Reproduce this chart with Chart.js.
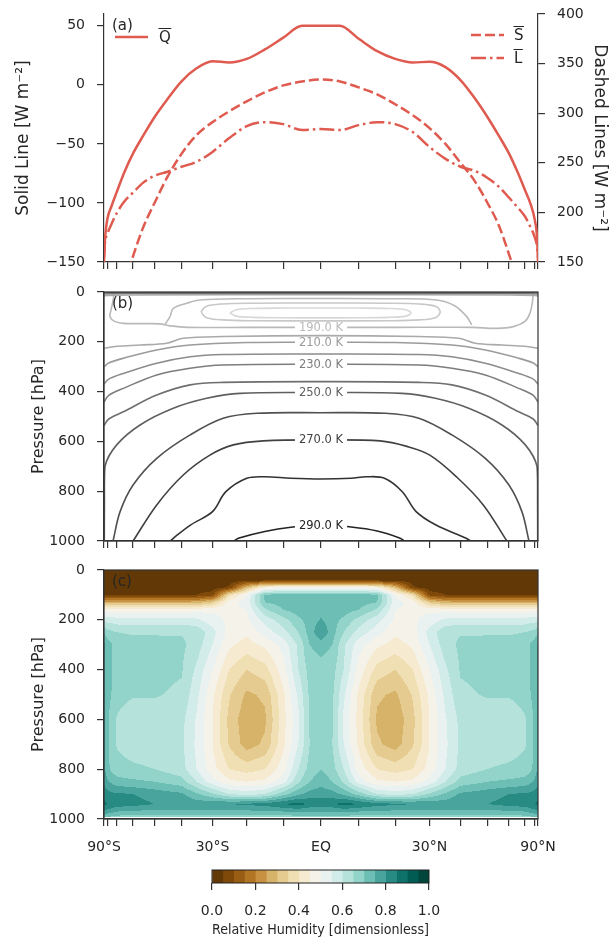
<!DOCTYPE html>
<html>
<head>
<meta charset="utf-8">
<script src="https://cdn.jsdelivr.net/npm/chart.js@4.4.0/dist/chart.umd.min.js"></script>
<style>
  html, body { margin: 0; padding: 0; background: #fff; }
  #wrap { position: relative; width: 614px; height: 943px; overflow: hidden; }
  #wrap canvas { position: absolute; left: 0; }
</style>
</head>
<body>
<div id="wrap">
  <canvas id="panelA" width="614" height="285" style="top:0px"></canvas>
  <canvas id="panelB" width="614" height="275" style="top:280px"></canvas>
  <canvas id="panelC" width="614" height="310" style="top:555px"></canvas>
  <canvas id="cbar" width="614" height="83" style="top:860px"></canvas>
</div>
<script>
// ---- panel (a): zonal-mean energy terms ----
const LATS_A = [-90, -85, -80, -75, -70, -65, -60, -55, -50, -45, -40, -35, -30, -25, -20, -15, -10, -5,
  0, 5, 10, 15, 20, 25, 30, 35, 40, 45, 50, 55, 60, 65, 70, 75, 80, 85, 90];
const Q_BAR = [-150, -133, -114, -103, -90, -74, -58, -43, -27, -12, 3, 14, 20, 19, 22, 30, 40, 50,
  50, 50, 39, 28.5, 22, 19, 19.5, 15, 4, -11, -27, -43, -58, -74, -89, -101, -114, -131, -150];
const L_BAR = [155, 168, 178, 188, 200, 211, 220, 230, 237, 241, 246, 251, 261, 275, 287, 291, 289, 283,
  284, 283, 288, 291, 289, 281, 266, 254, 246, 242, 235, 226, 215, 205, 196, 185, 175, 165, 155];
const LATS_S = [-70, -65, -60, -55, -50, -45, -40, -35, -30, -25, -20, -15, -10, -5,
  0, 5, 10, 15, 20, 25, 30, 35, 40, 45, 50, 55, 60, 65, 70];
const S_BAR = [100, 128, 156, 185, 210, 236, 259, 278, 291, 302, 312, 321, 328, 332,
  334, 332, 326, 319, 309, 298, 285, 269, 250, 232, 210, 187, 158, 130, 102];

// ---- shared latitude axis (sine of latitude) ----
const TICK_LATS = [-90, -80, -70, -60, -50, -40, -30, -20, -10, 0, 10, 20, 30, 40, 50, 60, 70, 80, 90];
const LAT_LABELS = { '-90': '90°S', '-30': '30°S', '0': 'EQ', '30': '30°N', '90': '90°N' };
const P_TICKS = [0, 200, 400, 600, 800, 1000];

// ---- panel (b): temperature contours, [latitude, pressure] ----
const t170 = [[-24.8, 84], [-23, 71], [-18, 66], [-10, 64.5], [0, 64], [10, 64.5], [18, 66], [23, 71], [24.5, 84],
  [23, 97], [18, 102], [10, 103.5], [0, 104], [-10, 103.5], [-18, 102], [-23, 97], [-24.8, 84]];
const t180 = [[-33.6, 80], [-32, 58], [-27, 48], [-18, 45], [0, 44], [18, 45], [27, 48], [32, 58], [33.3, 80],
  [32, 102], [27, 112], [18, 115.5], [0, 116], [-18, 115.5], [-27, 112], [-32, 102], [-33.6, 80]];
const t190 = [[-72.5, 0], [-73.3, 32], [-75.5, 75], [-76.5, 99], [-72, 118], [-65.6, 126], [-55, 127], [-48, 128],
  [-44, 136], [-38, 142], [-20, 142], [0, 142], [20, 142], [35, 141.5], [44.6, 142], [54, 146], [62.4, 139],
  [70, 118], [74.3, 86], [77, 40], [78, 0]];
const t190cap = [[-46, 131], [-44.1, 99], [-42.9, 66], [-38.2, 45], [-33.9, 32], [-20, 27], [0, 26], [20, 27],
  [32.2, 32], [38, 55], [42.2, 99], [44, 132]];
const tTop1 = [[-90, 16], [-80, 14], [-60, 12], [0, 11], [60, 12], [80, 14], [90, 16]];
const tTop2 = [[-90, 8], [-60, 6], [0, 6], [60, 6], [90, 8]];
const tTop3 = [[-90, 3], [0, 2.5], [90, 3]];
const t200 = [[-90, 226], [-70, 218], [-56.5, 213], [-45.3, 206], [-39.4, 186], [-26.8, 179], [0, 175],
  [26.8, 179], [39.4, 186], [45.3, 206], [56.5, 213], [70, 218], [90, 226]];
const t210 = [[-90, 300], [-78, 285], [-65.6, 266], [-49.2, 233], [-37.1, 213], [-20, 203], [0, 202],
  [20, 203], [37.1, 213], [49.2, 233], [65.6, 266], [78, 285], [90, 300]];
const t220 = [[-90, 370], [-78, 350], [-65.6, 327], [-49.2, 286], [-37.1, 260], [-26.8, 251], [0, 249],
  [26.8, 251], [37.1, 260], [49.2, 286], [65.6, 327], [78, 350], [90, 370]];
const t230 = [[-90, 442], [-78, 415], [-65.6, 387], [-49.2, 333], [-37.1, 306], [-26.8, 293], [0, 290],
  [26.8, 293], [37.1, 306], [49.2, 333], [65.6, 387], [78, 415], [90, 442]];
const t240 = [[-90, 536], [-78, 510], [-65.6, 481], [-49.2, 414], [-37.1, 373], [-26.8, 363], [0, 360],
  [26.8, 363], [37.1, 373], [49.2, 414], [65.6, 481], [78, 510], [90, 536]];
const t250 = [[-87, 1000], [-86.5, 850], [-84.6, 701], [-70.3, 614], [-56.5, 534], [-42.9, 467], [-31.8, 427],
  [-21.9, 407], [0, 404], [21.9, 407], [31.8, 427], [42.9, 467], [56.5, 534], [70.3, 614], [84.6, 701],
  [86.5, 850], [87, 1000]];
const t260 = [[-73.4, 1000], [-67.8, 882], [-60, 775], [-49.2, 668], [-37.1, 574], [-26.8, 507], [-17.2, 487],
  [0, 485], [17.2, 487], [26.8, 507], [37.1, 574], [49.2, 668], [60, 775], [67.8, 882], [73.4, 1000]];
const t270 = [[-60, 1000], [-49.2, 855], [-39.4, 735], [-30.8, 655], [-23.8, 614], [-15.4, 598], [0, 594],
  [15.8, 598], [23.3, 620], [30.1, 655], [38.7, 743], [48.4, 855], [58.9, 1000]];
const t280 = [[-44, 1000], [-42.9, 989], [-37, 936], [-30, 882], [-26, 802], [-20, 748], [-15, 742], [-8, 748],
  [0, 751], [8, 748], [12, 742], [17, 748], [22, 802], [26, 882], [32, 936], [42, 989], [43.5, 1000]];
const t290 = [[-23.5, 1000], [-22.4, 989], [-15, 962], [-8, 945], [0, 936], [8, 944], [15, 960], [21.4, 989],
  [22.5, 1000]];

const CONTOURS = [
  { level: 250, pts: tTop3 }, { level: 225, pts: tTop2 }, { level: 200, pts: tTop1 },
  { level: 170, pts: t170 }, { level: 180, pts: t180 },
  { level: 190, pts: t190, label: true }, { level: 190, pts: t190cap },
  { level: 200, pts: t200 }, { level: 210, pts: t210, label: true }, { level: 220, pts: t220 },
  { level: 230, pts: t230, label: true }, { level: 240, pts: t240 }, { level: 250, pts: t250, label: true },
  { level: 260, pts: t260 }, { level: 270, pts: t270, label: true }, { level: 280, pts: t280 },
  { level: 290, pts: t290, label: true }
];

// ---- panel (c): relative humidity on a latitude / pressure grid ----
const RH_LATS = [-90, -85, -80, -75, -70, -60, -50, -40, -35, -30, -25, -20, -15, -10, -6, -3,
  0, 3, 6, 10, 15, 20, 25, 30, 35, 40, 50, 60, 70, 75, 80, 85, 90];
const RH_PRESSURES = [2, 40, 70, 100, 130, 160, 200, 250, 300, 400, 500, 600, 700, 800, 850, 900, 940, 970, 990];
const rh2 = [.02,.02,.02,.02,.02,.02,.02,.02,.02,.02,.02,.02,.02,.02,.02,.02,.02,.02,.02,.02,.02,.02,.02,.02,.02,.02,.02,.02,.02,.02,.02,.02,.02];
const rh40 = [.02,.02,.02,.02,.02,.02,.02,.02,.02,.02,.02,.02,.02,.02,.02,.02,.02,.02,.02,.02,.02,.02,.02,.02,.02,.02,.02,.02,.02,.02,.02,.02,.02];
const rh70 = [.02,.02,.02,.02,.02,.02,.02,.02,.02,.02,.06,.30,.45,.48,.48,.48,.48,.48,.48,.48,.45,.30,.06,.02,.02,.02,.02,.02,.02,.02,.02,.02,.02];
const rh100 = [.05,.05,.05,.05,.05,.05,.05,.05,.05,.08,.38,.50,.71,.72,.72,.72,.72,.72,.72,.72,.71,.50,.38,.08,.05,.05,.05,.05,.05,.05,.05,.05,.05];
const rh130 = [.27,.27,.27,.27,.27,.27,.27,.27,.28,.33,.48,.52,.70,.72,.72,.73,.73,.73,.72,.72,.70,.52,.48,.33,.28,.27,.27,.27,.27,.27,.27,.27,.27];
const rh160 = [.47,.47,.47,.47,.47,.47,.47,.47,.48,.49,.49,.50,.64,.70,.72,.73,.73,.73,.72,.70,.64,.50,.49,.49,.48,.47,.47,.47,.47,.47,.47,.47,.47];
const rh200 = [.60,.59,.58,.58,.57,.57,.57,.57,.56,.52,.49,.49,.57,.63,.69,.72,.755,.72,.69,.63,.57,.49,.49,.52,.56,.57,.57,.57,.57,.58,.58,.59,.60];
const rh250 = [.71,.69,.67,.66,.65,.645,.645,.645,.64,.57,.48,.46,.52,.58,.65,.72,.80,.72,.65,.58,.52,.46,.48,.57,.64,.645,.645,.645,.65,.66,.67,.69,.71];
const rh300 = [.78,.755,.73,.705,.68,.665,.665,.66,.63,.55,.46,.43,.46,.52,.61,.70,.72,.70,.61,.52,.46,.43,.46,.55,.63,.66,.665,.665,.68,.705,.73,.755,.78];
const rh400 = [.78,.755,.73,.705,.68,.665,.665,.655,.59,.50,.40,.35,.38,.48,.60,.67,.68,.67,.60,.48,.38,.35,.40,.50,.59,.655,.665,.665,.68,.705,.73,.755,.78];
const rh500 = [.78,.755,.73,.70,.67,.655,.655,.64,.565,.46,.355,.29,.31,.44,.56,.66,.68,.66,.56,.44,.31,.29,.355,.46,.565,.64,.655,.655,.67,.70,.73,.755,.78];
const rh600 = [.775,.75,.72,.67,.645,.62,.62,.615,.545,.45,.335,.265,.29,.43,.54,.655,.68,.655,.54,.43,.29,.265,.335,.45,.545,.615,.62,.62,.645,.67,.72,.75,.775];
const rh700 = [.775,.75,.72,.67,.645,.625,.62,.61,.54,.45,.345,.275,.31,.44,.55,.65,.68,.65,.55,.44,.31,.275,.345,.45,.54,.61,.62,.625,.645,.67,.72,.75,.775];
const rh800 = [.78,.755,.72,.69,.67,.66,.65,.62,.55,.47,.40,.38,.40,.48,.60,.67,.70,.67,.60,.48,.40,.38,.40,.47,.55,.62,.65,.66,.67,.69,.72,.755,.78];
const rh850 = [.80,.78,.76,.74,.72,.71,.70,.67,.60,.52,.46,.45,.46,.53,.64,.70,.73,.70,.64,.53,.46,.45,.46,.52,.60,.67,.70,.71,.72,.74,.76,.78,.80];
const rh900 = [.84,.83,.82,.81,.81,.80,.78,.76,.71,.66,.60,.58,.60,.68,.74,.77,.78,.77,.74,.68,.60,.58,.60,.66,.71,.76,.78,.80,.81,.81,.82,.83,.84];
const rh940 = [.88,.86,.85,.84,.83,.82,.80,.79,.78,.79,.80,.81,.82,.85,.87,.84,.83,.84,.87,.85,.82,.81,.80,.79,.78,.79,.80,.82,.83,.84,.85,.86,.88];
const rh970 = [.81,.79,.78,.77,.75,.74,.74,.74,.74,.74,.74,.74,.74,.75,.76,.75,.75,.75,.76,.75,.74,.74,.74,.74,.74,.74,.74,.74,.75,.77,.78,.79,.81];
const rh990 = [.75,.73,.71,.70,.69,.68,.68,.68,.68,.68,.68,.68,.68,.68,.69,.69,.69,.69,.69,.68,.68,.68,.68,.68,.68,.68,.68,.68,.69,.70,.71,.73,.75];
const RH_ROWS = [rh2, rh40, rh70, rh100, rh130, rh160, rh200, rh250, rh300, rh400, rh500, rh600, rh700, rh800,
  rh850, rh900, rh940, rh970, rh990];

const RH_LEVELS = [0, 0.05, 0.1, 0.15, 0.2, 0.25, 0.3, 0.35, 0.4, 0.45, 0.5, 0.55, 0.6, 0.65, 0.7, 0.75, 0.8, 0.85, 0.9, 0.95, 1.0];
const CBAR_TICKS = [0, 0.2, 0.4, 0.6, 0.8, 1.0];
const BRBG = ['#623806', '#7e4909', '#995d13', '#b27524', '#c79141', '#d7b269', '#e5cb8f', '#f0dfb2', '#f6ebd0', '#f5f2e9',
  '#eaf2f1', '#d2ede9', '#b5e3dc', '#92d4ca', '#6dbfb5', '#48a49c', '#288b83', '#0e726a', '#015c53', '#00463b'];

const RED = '#df5a4f';
const INK = '#262626';
const SPINE = '#333333';
const DEG = Math.PI / 180;

Chart.defaults.font.family = '"DejaVu Sans", sans-serif';
Chart.defaults.font.size = 14;
Chart.defaults.color = INK;

function toXY(lats, vals) {
  return lats.map((lat, i) => ({ x: Math.sin(lat * DEG), y: vals[i] }));
}
function grayFor(level) {
  const g = Math.round(215 - (level - 170) * 1.5);
  return `rgb(${g},${g},${g})`;
}
function minus(v) {
  return v < 0 ? '\u2212' + Math.abs(v) : String(v);
}

// the plot boxes are placed by layout.padding alone, so edge-label padding is dropped
function fixSize(dim, size) {
  return s => {
    s[dim] = size;
    s.paddingTop = 0; s.paddingBottom = 0; s.paddingLeft = 0; s.paddingRight = 0;
  };
}

function latAxis(showLabels, height) {
  return {
    type: 'linear', min: -1, max: 1,
    afterBuildTicks: s => { s.ticks = TICK_LATS.map(l => ({ value: Math.sin(l * DEG) })); },
    afterFit: fixSize('height', height),
    ticks: {
      autoSkip: false, maxRotation: 0, minRotation: 0, padding: 13,
      callback: (v, i) => showLabels ? (LAT_LABELS[TICK_LATS[i]] || '') : ''
    },
    grid: { drawOnChartArea: false, tickLength: 7, color: SPINE, lineWidth: 1.2 },
    border: { display: true, color: SPINE, width: 1.2 }
  };
}
function valueAxis(position, ticks, min, max, title, titleSize, titlePad, width, reverse) {
  return {
    type: 'linear', position, min, max, reverse: !!reverse,
    afterBuildTicks: s => { s.ticks = ticks.map(v => ({ value: v })); },
    afterFit: fixSize('width', width),
    ticks: { padding: 12, callback: v => minus(v) },
    grid: { drawOnChartArea: false, tickLength: 7, color: SPINE, lineWidth: 1.2 },
    border: { display: true, color: SPINE, width: 1.2 },
    title: { display: true, text: title, font: { size: titleSize }, padding: { top: titlePad, bottom: 0 } }
  };
}

// panel letter in the upper-left corner
function letterPlugin(letter) {
  return {
    id: 'letter',
    afterDraw(chart) {
      const { ctx, chartArea: a } = chart;
      ctx.save();
      ctx.font = '15px "DejaVu Sans"';
      ctx.fillStyle = INK;
      ctx.textBaseline = 'middle';
      ctx.fillText(letter, a.left + 8, a.top + 12);
      ctx.restore();
    }
  };
}
// full box around the plotting area
const frame = {
  id: 'frame',
  afterDraw(chart) {
    const { ctx, chartArea: a } = chart;
    ctx.save();
    ctx.strokeStyle = SPINE;
    ctx.lineWidth = 1.2;
    ctx.strokeRect(a.left, a.top, a.right - a.left, a.bottom - a.top);
    ctx.restore();
  }
};

// legends of panel (a): symbols with an overbar
function drawOverbarText(ctx, text, x, y) {
  ctx.fillText(text, x, y);
  const w = ctx.measureText(text).width;
  ctx.beginPath();
  ctx.lineWidth = 1;
  ctx.moveTo(x - 0.5, y - 9.5);
  ctx.lineTo(x + w + 0.5, y - 9.5);
  ctx.stroke();
}
const legendA = {
  id: 'legendA',
  afterDraw(chart) {
    const { ctx, chartArea: a } = chart;
    const sets = chart.data.datasets;
    ctx.save();
    ctx.font = '15px "DejaVu Sans"';
    ctx.fillStyle = INK;
    ctx.strokeStyle = INK;
    ctx.textBaseline = 'middle';
    const items = [
      { ds: sets[0], x0: a.left + 11, y: a.top + 23, tx: a.left + 55 },
      { ds: sets[1], x0: a.right - 67, y: a.top + 21, tx: a.right - 24 },
      { ds: sets[2], x0: a.right - 67, y: a.top + 44, tx: a.right - 24 }
    ];
    items.forEach(it => {
      ctx.save();
      ctx.strokeStyle = it.ds.borderColor;
      ctx.lineWidth = it.ds.borderWidth;
      ctx.setLineDash(it.ds.borderDash || []);
      ctx.beginPath();
      ctx.moveTo(it.x0, it.y);
      ctx.lineTo(it.x0 + 33, it.y);
      ctx.stroke();
      ctx.restore();
      drawOverbarText(ctx, it.ds.label, it.tx, it.y + 1);
    });
    ctx.restore();
  }
};

new Chart(document.getElementById('panelA'), {
  type: 'line',
  data: {
    datasets: [
      { label: 'Q', data: toXY(LATS_A, Q_BAR), yAxisID: 'yL', borderColor: RED, borderWidth: 2.5,
        pointRadius: 0, cubicInterpolationMode: 'monotone', borderCapStyle: 'butt' },
      { label: 'S', data: toXY(LATS_S, S_BAR), yAxisID: 'yR', borderColor: RED, borderWidth: 2.5,
        borderDash: [10, 4], pointRadius: 0, cubicInterpolationMode: 'monotone', borderCapStyle: 'butt' },
      { label: 'L', data: toXY(LATS_A, L_BAR), yAxisID: 'yR', borderColor: RED, borderWidth: 2.5,
        borderDash: [15, 4, 2.5, 4], pointRadius: 0, cubicInterpolationMode: 'monotone', borderCapStyle: 'butt' }
    ]
  },
  options: {
    responsive: false, animation: false, events: [],
    layout: { padding: { top: 14, left: 0, right: 0, bottom: 0 } },
    plugins: { legend: { display: false }, tooltip: { enabled: false } },
    scales: {
      x: latAxis(false, 23),
      yL: valueAxis('left', [-150, -100, -50, 0, 50], -150, 60, 'Solid Line [W m\u207b\u00b2]', 17, 13, 104),
      yR: valueAxis('right', [150, 200, 250, 300, 350, 400], 150, 400, 'Dashed Lines [W m\u207b\u00b2]', 17, 4, 76)
    }
  },
  plugins: [legendA, letterPlugin('(a)')]
});

// ---- panel (b) ----
const contourLabels = {
  id: 'contourLabels',
  afterDatasetsDraw(chart) {
    const { ctx, scales: { x, y } } = chart;
    ctx.save();
    ctx.font = '11.5px "DejaVu Sans"';
    ctx.textAlign = 'center';
    ctx.textBaseline = 'middle';
    CONTOURS.filter(c => c.label).forEach(c => {
      const mid = c.pts.find(pt => pt[0] === 0);
      const px = x.getPixelForValue(0);
      const py = y.getPixelForValue(mid[1]);
      const text = c.level.toFixed(1) + ' K';
      const w = ctx.measureText(text).width;
      ctx.fillStyle = '#fff';
      ctx.fillRect(px - w / 2 - 4, py - 4, w + 8, 8);
      ctx.fillStyle = grayFor(c.level);
      ctx.fillText(text, px, py + 0.5);
    });
    ctx.restore();
  }
};

new Chart(document.getElementById('panelB'), {
  type: 'line',
  data: {
    datasets: CONTOURS.map(c => ({
      data: c.pts.map(([lat, p]) => ({ x: Math.sin(lat * DEG), y: p })),
      borderColor: grayFor(c.level), borderWidth: 1.6, pointRadius: 0, tension: 0.35
    }))
  },
  options: {
    responsive: false, animation: false, events: [],
    layout: { padding: { top: 12, left: 0, right: 76, bottom: 0 } },
    plugins: { legend: { display: false }, tooltip: { enabled: false } },
    scales: {
      x: latAxis(false, 14),
      y: valueAxis('left', P_TICKS, 0, 1000, 'Pressure [hPa]', 16, 29, 104, true)
    }
  },
  plugins: [contourLabels, frame, letterPlugin('(b)')]
});

// ---- panel (c) ----
function hexToRgb(h) {
  const n = parseInt(h.slice(1), 16);
  return [(n >> 16) & 255, (n >> 8) & 255, n & 255];
}
const rhField = {
  id: 'rhField',
  beforeDatasetsDraw(chart) {
    const { ctx, chartArea: a, scales: { x, y } } = chart;
    const w = Math.round(a.right - a.left), h = Math.round(a.bottom - a.top);
    const off = document.createElement('canvas');
    off.width = w; off.height = h;
    const octx = off.getContext('2d');
    const img = octx.createImageData(w, h);
    const rgb = BRBG.map(hexToRgb);
    const nC = RH_LATS.length, nR = RH_PRESSURES.length;
    const step = RH_LEVELS[1] - RH_LEVELS[0];
    for (let i = 0; i < w; i++) {
      const s = Math.max(-1, Math.min(1, x.getValueForPixel(a.left + i + 0.5)));
      const lat = Math.asin(s) / DEG;
      let c = 0;
      while (c < nC - 2 && RH_LATS[c + 1] < lat) c++;
      const fx = Math.max(0, Math.min(1, (lat - RH_LATS[c]) / (RH_LATS[c + 1] - RH_LATS[c])));
      for (let j = 0; j < h; j++) {
        const p = y.getValueForPixel(a.top + j + 0.5);
        if (p > RH_PRESSURES[nR - 1]) continue;
        let r = 0;
        while (r < nR - 2 && RH_PRESSURES[r + 1] < p) r++;
        const fy = Math.max(0, Math.min(1, (p - RH_PRESSURES[r]) / (RH_PRESSURES[r + 1] - RH_PRESSURES[r])));
        const top = RH_ROWS[r], bot = RH_ROWS[r + 1];
        const v = (1 - fy) * ((1 - fx) * top[c] + fx * top[c + 1]) + fy * ((1 - fx) * bot[c] + fx * bot[c + 1]);
        const k = Math.max(0, Math.min(BRBG.length - 1, Math.floor(v / step)));
        const o = (j * w + i) * 4;
        img.data[o] = rgb[k][0]; img.data[o + 1] = rgb[k][1]; img.data[o + 2] = rgb[k][2]; img.data[o + 3] = 255;
      }
    }
    octx.putImageData(img, 0, 0);
    ctx.drawImage(off, a.left, a.top);
  }
};

new Chart(document.getElementById('panelC'), {
  type: 'line',
  data: { datasets: [{ data: [], pointRadius: 0 }] },
  options: {
    responsive: false, animation: false, events: [],
    layout: { padding: { top: 15, left: 0, right: 76, bottom: 0 } },
    plugins: { legend: { display: false }, tooltip: { enabled: false } },
    scales: {
      x: latAxis(true, 46),
      y: valueAxis('left', P_TICKS, 0, 1000, 'Pressure [hPa]', 16, 29, 104, true)
    }
  },
  plugins: [rhField, frame, letterPlugin('(c)')]
});

// ---- colour bar ----
const cbarFrame = {
  id: 'cbarFrame',
  afterDraw(chart) {
    const { ctx, chartArea: a } = chart;
    ctx.save();
    ctx.strokeStyle = '#222';
    ctx.lineWidth = 1;
    ctx.strokeRect(a.left, a.top, a.right - a.left, a.bottom - a.top);
    ctx.restore();
  }
};
new Chart(document.getElementById('cbar'), {
  type: 'bar',
  data: {
    labels: [''],
    datasets: BRBG.map((col, i) => ({
      data: [[RH_LEVELS[i], RH_LEVELS[i + 1]]], backgroundColor: col, borderWidth: 0,
      barPercentage: 1, categoryPercentage: 1, grouped: false
    }))
  },
  options: {
    indexAxis: 'y', responsive: false, animation: false, events: [],
    layout: { padding: { top: 10, left: 212, right: 185, bottom: 0 } },
    plugins: { legend: { display: false }, tooltip: { enabled: false } },
    scales: {
      y: { display: false },
      x: {
        type: 'linear', min: 0, max: 1,
        afterBuildTicks: s => { s.ticks = CBAR_TICKS.map(v => ({ value: v })); },
        afterFit: fixSize('height', 60),
        ticks: { padding: 13, callback: v => v.toFixed(1) },
        grid: { drawOnChartArea: false, tickLength: 7, color: SPINE, lineWidth: 1.2 },
        border: { display: false },
        title: { display: true, text: 'Relative Humidity [dimensionless]', font: { size: 13.5 }, padding: { top: 0, bottom: 4 } }
      }
    }
  },
  plugins: [cbarFrame]
});
</script>
</body>
</html>
